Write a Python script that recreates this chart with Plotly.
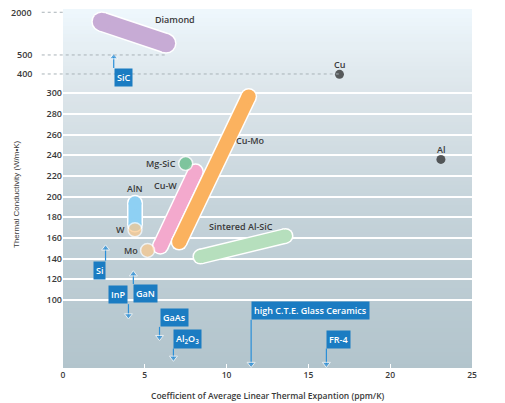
"""
Conductivité thermique vs coefficient de dilatation thermique
des matériaux d'encapsulation (axe Y non linéaire au-dessus de 300).
"""

import numpy as np
import plotly.graph_objects as go

# ============================================================
# DONNÉES
# ============================================================
# Axe Y non linéaire : valeurs réelles -> position sur l'axe
paliers_k = [0, 300, 400, 500, 2000]
paliers_pos = [0, 300, 318.7, 337.1, 378.4]

graduations_k = [100, 120, 140, 160, 180, 200, 220, 240, 260, 280, 300]
graduations_hautes = [400, 500, 2000]
graduations_x = [0, 5, 10, 15, 20, 25]

# Bandes (CTE début/fin, conductivité début/fin)
diamant_cte = [2.37, 6.3]
diamant_k = [1670, 910]
aln_cte = [4.4, 4.4]
aln_k = [194, 173]
cuw_cte = [5.95, 8.1]
cuw_k = [152, 224]
cumo_cte = [7.1, 11.35]
cumo_k = [156, 297]
alsic_cte = [8.4, 13.6]
alsic_k = [142, 162]

# Points isolés
points_noms = ["Cu", "Al", "Mg-SiC", "W", "Mo"]
points_cte = [16.9, 23.1, 7.5, 4.4, 5.17]
points_k = [398, 236, 232, 168, 148]

# Flèches (matériaux hors échelle) : base = boîte, pointe = triangle
fleches_noms = ["SiC", "Si", "GaN", "InP", "GaAs", "Al<sub>2</sub>O<sub>3</sub>",
                "high C.T.E. Glass Ceramics", "FR-4"]
fleches_cte = [3.1, 2.6, 4.3, 4.0, 5.9, 6.75, 11.5, 16.1]
fleches_base = [432, 138, 115.5, 96, 74, 53, 81, 53]
fleches_pointe = [489, 150, 125, 85, 64, 44, 38, 38]

# Étiquettes des bandes
etiquettes_noms = ["Diamond", "AlN", "Cu-W", "Cu-Mo", "Sintered Al-SiC"]
etiquettes_cte = [6.87, 4.4, 6.26, 11.47, 10.86]
etiquettes_k = [1731, 207.5, 211, 254, 171]


def pos_y(k):
    return np.interp(k, paliers_k, paliers_pos)


TEXTE = "#3a3a3a"
BLEU = "#1b7cc2"
POLICE = "Open Sans"
ETIQ = dict(size=9, color=TEXTE, family=POLICE, weight=600)

fig = go.Figure()

# ============================================================
# FOND EN DÉGRADÉ (bandes sous la grille)
# ============================================================
arrets = [(0.0, (178, 196, 204)), (0.45, (197, 211, 218)), (0.77, (220, 229, 234)),
          (0.9, (230, 239, 244)), (1.0, (238, 247, 253))]
N = 90
for i in range(N):
    t = (i + 0.5) / N
    for (a, ca), (b, cb) in zip(arrets[:-1], arrets[1:]):
        if a <= t <= b:
            f = (t - a) / (b - a)
            c = [round(ca[j] + f * (cb[j] - ca[j])) for j in range(3)]
            break
    fig.add_shape(type="rect", xref="paper", yref="paper", x0=0, x1=1,
                  y0=i / N, y1=(i + 1) / N + 0.003, layer="below",
                  fillcolor=f"rgb({c[0]},{c[1]},{c[2]})", line_width=0)

# Lignes pointillées pour 2000 / 500 / 400
fins = [0, diamant_cte[1] / 25, points_cte[0] / 25]
for k, fin in zip(graduations_hautes[::-1], fins):
    fig.add_shape(type="line", xref="paper", yref="y", x0=-0.052, x1=fin,
                  y0=pos_y(k), y1=pos_y(k), line=dict(color="#a9b3b8", width=1, dash="dot"))
    fig.add_annotation(x=-0.071, xref="paper", y=pos_y(k), text=str(k), showarrow=False,
                       xanchor="right", font=ETIQ)


# ============================================================
# BANDES ARRONDIES
# ============================================================
def bande(cte, k, couleur, largeur):
    y = pos_y(k)
    for c, w in [("white", largeur + 3), (couleur, largeur)]:
        fig.add_trace(go.Scatter(x=cte, y=y, mode="lines+markers",
                                 line=dict(color=c, width=w), marker=dict(color=c, size=w),
                                 hoverinfo="skip", showlegend=False))


bande(diamant_cte, diamant_k, "#c7abd5", 18)
bande(aln_cte, aln_k, "#8ed0f3", 13)
bande(alsic_cte, alsic_k, "#b6dfbd", 13)
bande(cuw_cte, cuw_k, "#f3a9cd", 14)
bande(cumo_cte, cumo_k, "#fbb25f", 14)

# Points
couleurs_points = ["#1c1c1c", "#1c1c1c", "#5dbc82", "#fcc88a", "#fcc88a"]
tailles_points = [9, 9, 14, 14, 14]
contours_points = [0, 0, 1.5, 1.5, 1.5]
fig.add_trace(go.Scatter(x=points_cte, y=pos_y(points_k), mode="markers",
                         marker=dict(color=couleurs_points, size=tailles_points,
                                     line=dict(color="white", width=contours_points)),
                         hoverinfo="skip", showlegend=False))
for nom, c, k in zip(points_noms, points_cte, points_k):
    if nom in ("Cu", "Al"):
        fig.add_annotation(x=c, y=pos_y(k), text=nom, showarrow=False, yshift=10, font=ETIQ)
    else:
        fig.add_annotation(x=c, y=pos_y(k), text=nom, showarrow=False, xanchor="right",
                           xshift=-8, font=ETIQ)

for nom, c, k in zip(etiquettes_noms, etiquettes_cte, etiquettes_k):
    fig.add_annotation(x=c, y=pos_y(k), text=nom, showarrow=False, font=ETIQ)

# ============================================================
# FLÈCHES + BOÎTES BLEUES
# ============================================================
cotes = ["left", "right", "left", "right", "left", "left", "left", "left"]
for nom, c, b, p, cote in zip(fleches_noms, fleches_cte, fleches_base, fleches_pointe, cotes):
    vers_haut = p > b
    fig.add_trace(go.Scatter(x=[c, c], y=[pos_y(b), pos_y(p)], mode="lines+markers",
                             line=dict(color="#2b8fd8", width=1.2),
                             marker=dict(color="#2b8fd8", size=[0, 7],
                                         symbol=["circle", "triangle-up" if vers_haut else "triangle-down"]),
                             cliponaxis=False, hoverinfo="skip", showlegend=False))
    fig.add_annotation(x=c, y=pos_y(b), text=nom, showarrow=False, xanchor=cote,
                       yanchor="top" if vers_haut else "bottom", bgcolor=BLEU, borderpad=2,
                       font=dict(size=9, color="white", family=POLICE, weight=600))

# Titres des axes
fig.add_annotation(x=-0.115, xref="paper", y=0.486, yref="paper", text="Thermal Conductivity (W/m•K)",
                   textangle=-90, showarrow=False, xanchor="center", yanchor="middle",
                   font=dict(size=8, color=TEXTE, family="Liberation Sans"))
fig.add_annotation(x=0.5, xref="paper", y=-0.078, yref="paper",
                   text="Coefficient of Average Linear Thermal Expantion (ppm/K)",
                   showarrow=False, xanchor="center", yanchor="middle",
                   font=dict(size=8.5, color=TEXTE, family=POLICE, weight=600))

fig.update_layout(
    width=505, height=403,
    margin=dict(l=63, r=33, t=10, b=35),
    paper_bgcolor="white", plot_bgcolor="rgba(0,0,0,0)",
    xaxis=dict(range=[0, 25], tickvals=graduations_x, showgrid=False, zeroline=False,
               ticks="inside", ticklen=4, tickcolor="white", showline=False,
               tickfont=dict(size=8.5, color=TEXTE, family=POLICE, weight=600)),
    yaxis=dict(range=[34.2, 380.6], tickvals=pos_y(graduations_k),
               ticktext=[str(k) for k in graduations_k], showgrid=True,
               gridcolor="white", gridwidth=1.5, zeroline=False, ticks="",
               tickfont=dict(size=9, color=TEXTE, family=POLICE, weight=600)),
)

# La page HTML ajoute une marge de 8 px au <body> : on la supprime
fig.write_html("out.html", config={"displayModeBar": False},
               post_script="document.body.style.margin='0';")
